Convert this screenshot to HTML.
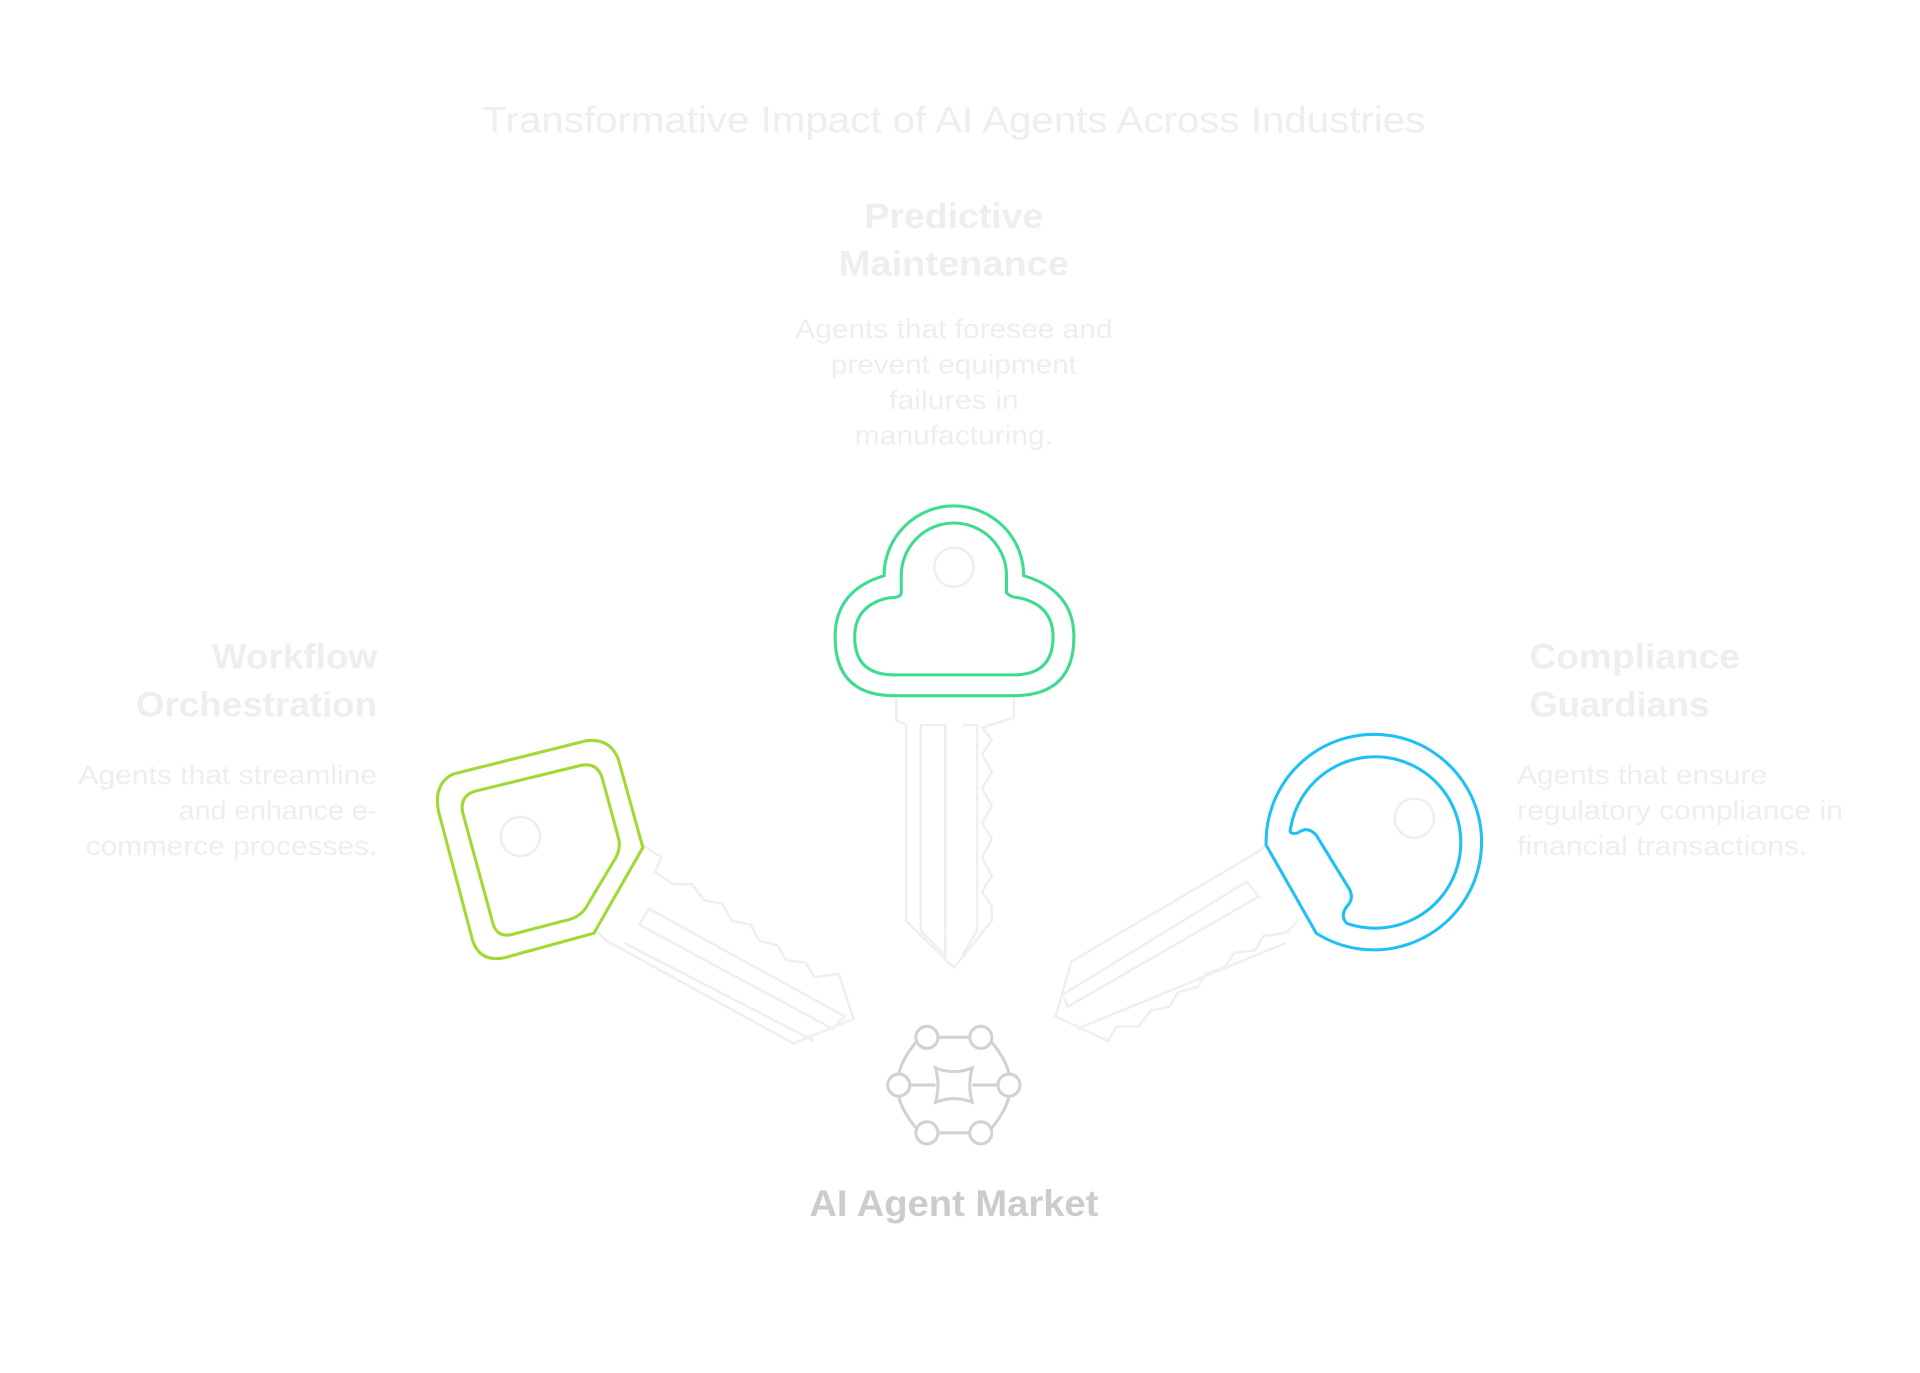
<!DOCTYPE html>
<html><head><meta charset="utf-8"><style>
html,body{margin:0;padding:0;background:#fff;}
svg{display:block}
text{font-family:"Liberation Sans",sans-serif;}
</style></head><body>
<svg width="1920" height="1373" viewBox="0 0 1568 1121" xmlns="http://www.w3.org/2000/svg">
<rect width="1568" height="1121" fill="#fff"/>
<g fill="#eeeeee">
<text x="779" y="108" font-size="30" text-anchor="middle" textLength="770" lengthAdjust="spacingAndGlyphs">Transformative Impact of AI Agents Across Industries</text>
<text x="779" y="186" font-size="29" font-weight="bold" text-anchor="middle" textLength="146" lengthAdjust="spacingAndGlyphs">Predictive</text>
<text x="779" y="225" font-size="29" font-weight="bold" text-anchor="middle" textLength="188" lengthAdjust="spacingAndGlyphs">Maintenance</text>
<g font-size="22" text-anchor="middle">
<text x="779" y="276" textLength="259" lengthAdjust="spacingAndGlyphs">Agents that foresee and</text>
<text x="779" y="305" textLength="201" lengthAdjust="spacingAndGlyphs">prevent equipment</text>
<text x="779" y="334" textLength="106" lengthAdjust="spacingAndGlyphs">failures in</text>
<text x="779" y="363" textLength="162" lengthAdjust="spacingAndGlyphs">manufacturing.</text>
</g>
<text x="308" y="546" font-size="29" font-weight="bold" text-anchor="end" textLength="135" lengthAdjust="spacingAndGlyphs">Workflow</text>
<text x="308" y="585" font-size="29" font-weight="bold" text-anchor="end" textLength="197" lengthAdjust="spacingAndGlyphs">Orchestration</text>
<g font-size="22" text-anchor="end">
<text x="308" y="640" textLength="244" lengthAdjust="spacingAndGlyphs">Agents that streamline</text>
<text x="308" y="669" textLength="162" lengthAdjust="spacingAndGlyphs">and enhance e-</text>
<text x="308" y="698" textLength="238" lengthAdjust="spacingAndGlyphs">commerce processes.</text>
</g>
<text x="1249" y="546" font-size="29" font-weight="bold" textLength="172" lengthAdjust="spacingAndGlyphs">Compliance</text>
<text x="1249" y="585" font-size="29" font-weight="bold" textLength="147" lengthAdjust="spacingAndGlyphs">Guardians</text>
<g font-size="22">
<text x="1239" y="640" textLength="204" lengthAdjust="spacingAndGlyphs">Agents that ensure</text>
<text x="1239" y="669" textLength="266" lengthAdjust="spacingAndGlyphs">regulatory compliance in</text>
<text x="1239" y="698" textLength="237" lengthAdjust="spacingAndGlyphs">financial transactions.</text>
</g>
</g>
<text x="779" y="993" font-size="30" font-weight="bold" text-anchor="middle" fill="#cccccc" textLength="236" lengthAdjust="spacingAndGlyphs">AI Agent Market</text>

<!-- faint shafts -->
<g fill="none" stroke="#efefef" stroke-width="2">
<path d="M732,570 L732,588 L740,592 L740,752 L779,790 L810,752 L810,740 L802,728 L810,715 L802,700 L810,685 L802,672 L810,658 L802,644 L810,630 L802,616 L810,604 L802,594 L828,586 L828,570"/>
<path d="M752,592 L772,592 L772,780 L752,760 Z"/>
<path d="M786,592 L798,592 L798,760 L786,780"/>
<path d="M525,690 L540,700 L535,712 L550,722 L565,722 L575,735 L590,738 L598,752 L613,755 L620,768 L635,772 L642,784 L658,786 L665,798 L685,795 L697,832 L648,852 L495,768 L487,760"/>
<path d="M522,755 L530,742 L690,830 L680,840 Z"/>
<path d="M510,770 L665,850"/>
<path d="M1035,690 L1020,700 L875,785 L862,830 L905,850 L912,838 L930,838 L940,825 L955,822 L962,810 L978,806 L985,795 L1000,790 L1008,778 L1025,776 L1032,764 L1050,762 L1060,752"/>
<path d="M1018,720 L1028,732 L872,822 L868,812 Z"/>
<path d="M1050,770 L880,840"/>
</g>

<!-- green key head -->
<g fill="none" stroke="#3ddc90" stroke-width="2.5">
<path d="M722,470 A57,57 0 0 1 836,470 Q877,482 877,520 Q877,568 828,568 L730,568 Q682,568 682,520 Q682,482 722,470 Z"/>
<path d="M736,484 L736,470 A43,43 0 0 1 822,470 L822,484 Q826,488 832,488 Q860,494 860,520 Q860,551 828,551 L730,551 Q698,551 698,520 Q698,494 726,488 Q736,488 736,484 Z"/>
</g>
<circle cx="779" cy="463" r="16" fill="none" stroke="#eeeeee" stroke-width="2"/>

<!-- left key head -->
<g fill="none" stroke="#a0d934" stroke-width="2.5">
<path d="M370,632 L478,605 Q498,602 505,620 L525,692 L485,762 L412,782 Q392,786 386,768 L358,662 Q354,640 370,632 Z"/>
<path d="M388,646 L474,625 Q488,622 492,636 L505,684 Q508,694 500,705 L478,742 Q472,750 460,752 L418,763 Q405,766 402,752 L378,664 Q375,650 388,646 Z"/>
</g>
<circle cx="425" cy="683" r="16" fill="none" stroke="#eeeeee" stroke-width="2"/>

<!-- right key head -->
<g fill="none" stroke="#1fc0f4" stroke-width="2.5">
<path d="M1034,690 A88,88 0 1 1 1075,762 Z"/>
<path d="M1054,676 A70,70 0 1 1 1100,754 Q1094,748 1100,740 Q1106,734 1102,726 L1075,682 Q1068,674 1060,680 Q1052,682 1054,676 Z"/>
</g>
<circle cx="1155" cy="668" r="16" fill="none" stroke="#eeeeee" stroke-width="2"/>

<!-- hub icon -->
<g fill="none" stroke="#d2d2d2" stroke-width="2.5">
<path d="M766,847 L792,847 M810,851 Q822,866 824,877 M824,895 Q822,906 810,921 M792,925 L766,925 M748,921 Q736,906 734,895 M734,877 Q736,866 748,851"/>
<path d="M743,886 L764,886 M794,886 L815,886"/>
<path d="M764,872 Q779,878 794,872 Q790,886 794,900 Q779,894 764,900 Q768,886 764,872 Z"/>
<circle cx="757" cy="847" r="9"/><circle cx="801" cy="847" r="9"/>
<circle cx="734" cy="886" r="9"/><circle cx="824" cy="886" r="9"/>
<circle cx="757" cy="925" r="9"/><circle cx="801" cy="925" r="9"/>
</g>
</svg>
</body></html>
